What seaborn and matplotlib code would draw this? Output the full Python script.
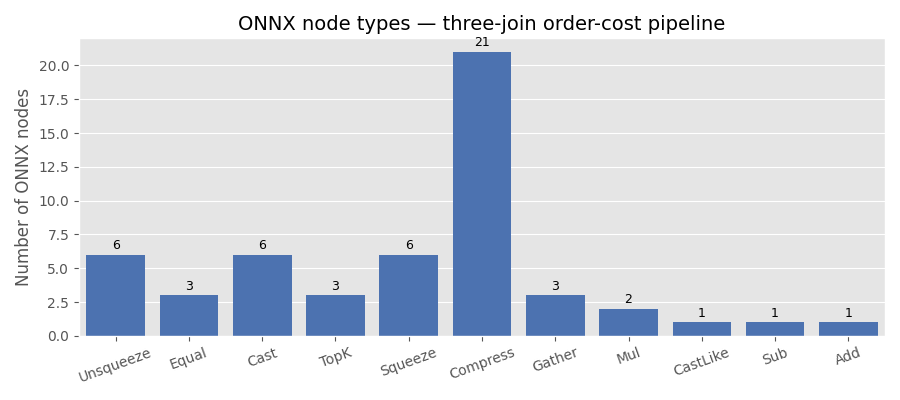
import matplotlib
matplotlib.use('Agg')
import matplotlib.pyplot as plt
import seaborn as sns
import pandas as pd

node_types = ['Unsqueeze', 'Equal', 'Cast', 'TopK', 'Squeeze', 'Compress',
              'Gather', 'Mul', 'CastLike', 'Sub', 'Add']
counts = [6, 3, 6, 3, 6, 21, 3, 2, 1, 1, 1]

plt.style.use('ggplot')
df = pd.DataFrame({'op': node_types, 'n': counts})

fig, ax = plt.subplots(figsize=(9, 4), dpi=100)
sns.barplot(data=df, x='op', y='n', color='#4C72B0', saturation=1, width=0.8, ax=ax)
for i, v in enumerate(counts):
    ax.annotate(str(v), xy=(i, v), xytext=(0, 2), textcoords='offset points',
                ha='center', va='bottom', fontsize=9, color='black')

ax.set_title('ONNX node types — three-join order-cost pipeline', fontsize=14)
ax.set_xlabel('')
ax.set_ylabel('Number of ONNX nodes', fontsize=12)
ax.set_ylim(0, 22)
ax.set_yticks([0, 2.5, 5, 7.5, 10, 12.5, 15, 17.5, 20])
ax.tick_params(axis='x', labelsize=10, rotation=20)
ax.tick_params(axis='y', labelsize=10)

plt.tight_layout()
plt.savefig('out.png', dpi=100)
